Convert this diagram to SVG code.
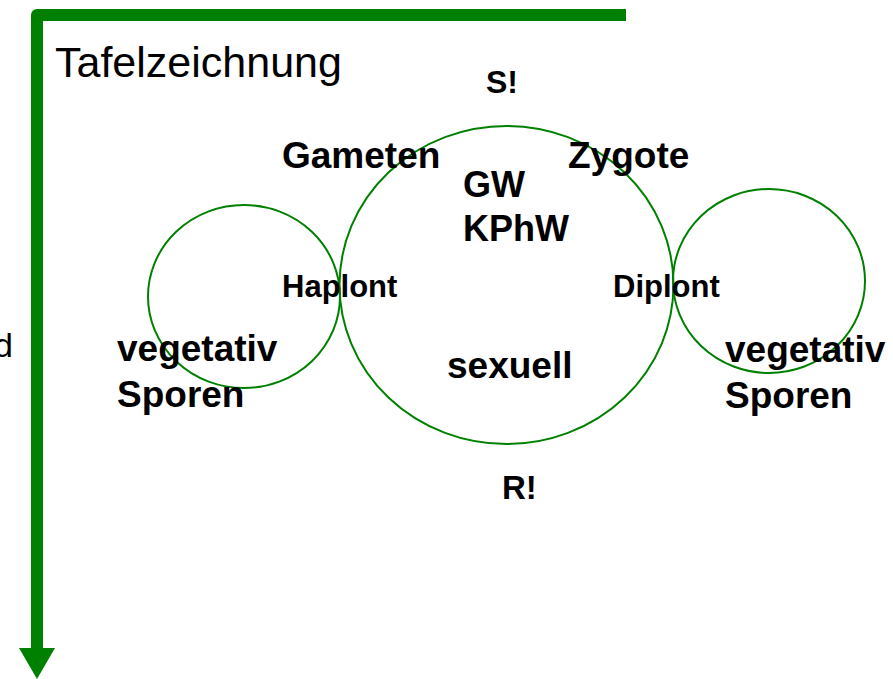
<svg xmlns="http://www.w3.org/2000/svg" width="893" height="679" viewBox="0 0 893 679">
<style>
.c{fill:none;stroke:#008000;stroke-width:2}
.b{font-family:"Liberation Sans",Arial,sans-serif;font-weight:bold;fill:#000}
.n{font-family:"Liberation Sans",Arial,sans-serif;fill:#000}
</style>
<rect width="893" height="679" fill="#fff"/>
<g id="axes">
<path d="M626 15 H37 V650" fill="none" stroke="#008000" stroke-width="12" stroke-linejoin="round"/>
<polygon points="19,648 55,648 37,679" fill="#008000"/>
</g>
<text class="n" x="55" y="77" font-size="43">Tafelzeichnung</text>
<text class="n" x="13" y="357" font-size="34" text-anchor="end">d</text>
<g id="circles">
<ellipse id="sexual" class="c" cx="506.5" cy="285" rx="167" ry="159"/>
<ellipse id="haplont" class="c" cx="244" cy="296.5" rx="96" ry="91.5"/>
<ellipse id="diplont" class="c" cx="769" cy="281" rx="96" ry="92"/>
</g>
<g id="labels">
<text class="b" x="486" y="93" font-size="32">S!</text>
<text class="b" x="282" y="168" font-size="37">Gameten</text>
<text class="b" x="568" y="168" font-size="37">Zygote</text>
<text class="b" x="463" y="197" font-size="36">GW</text>
<text class="b" x="463" y="241" font-size="36">KPhW</text>
<text class="b" x="282" y="297" font-size="31">Haplont</text>
<text class="b" x="613" y="297" font-size="31">Diplont</text>
<text class="b" x="447" y="378" font-size="37">sexuell</text>
<text class="b" x="117" y="361" font-size="37">vegetativ</text>
<text class="b" x="117" y="407" font-size="37">Sporen</text>
<text class="b" x="725" y="362" font-size="37">vegetativ</text>
<text class="b" x="725" y="408" font-size="37">Sporen</text>
<text class="b" x="502" y="499" font-size="33">R!</text>
</g>
</svg>
